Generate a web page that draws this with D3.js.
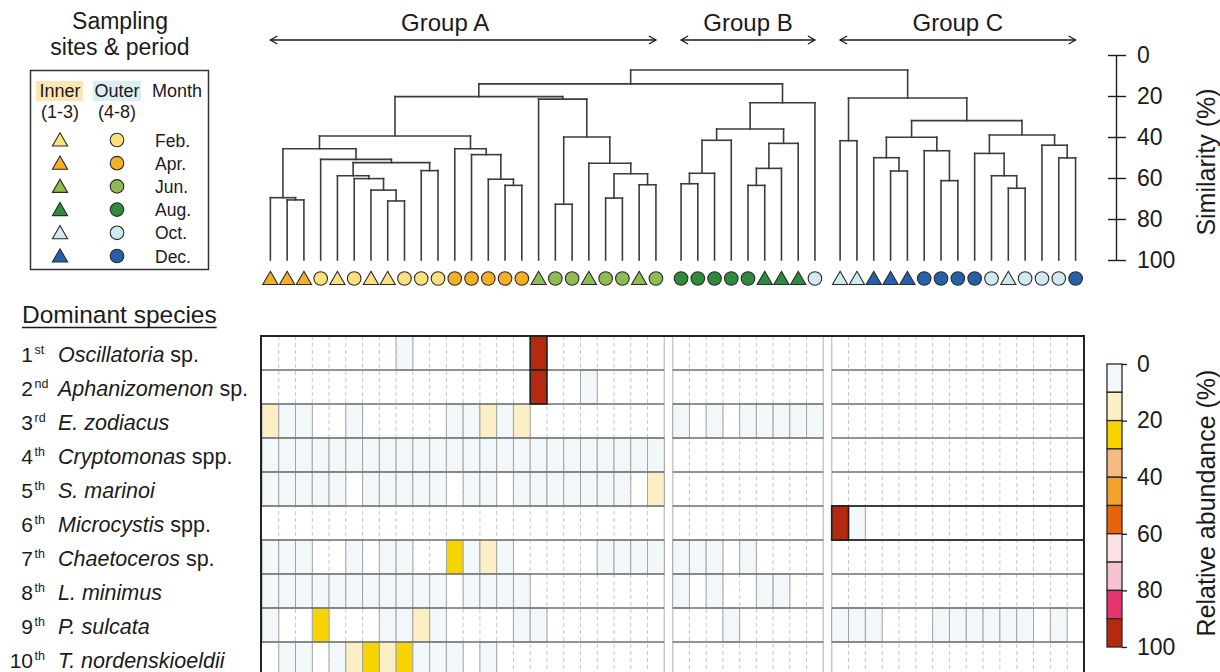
<!DOCTYPE html>
<html><head><meta charset="utf-8">
<script src="https://cdn.jsdelivr.net/npm/d3@7"></script>
<style>
html,body{margin:0;padding:0;background:#fff;overflow:hidden;}
svg{display:block;font-family:"Liberation Sans",Arial,Helvetica,sans-serif;}
</style></head><body>
<svg id="chart" width="1220" height="672"></svg>
<script>
// ---------------- data ----------------
const groupNames = ["Group A", "Group B", "Group C"];
const groupSizes = [24, 9, 15];

const months = ["Feb.", "Apr.", "Jun.", "Aug.", "Oct.", "Dec."];
const monthColors = ["#fde07e", "#f3b025", "#8fbc52", "#2f8b3b", "#d0e8ef", "#2561a9"];

// samples in dendrogram order: site type (I = inner 1-3, O = outer 4-8) and month index
const sampleSite = [
  "I","I","I","O","I","O","I","I","O","O","O","O","O","O","O","O","I","O","O","I","O","O","I","O",
  "O","O","O","O","O","I","I","I","O",
  "I","I","I","I","I","O","O","O","O","O","I","O","O","O","O"
];
const sampleMonth = [
  1,1,1,0,0,0,0,0,0,0,0,1,1,1,1,1,2,2,2,2,2,2,2,2,
  3,3,3,3,3,3,3,3,4,
  4,4,5,5,5,5,5,5,5,4,4,4,4,4,5
];

// cluster tree: [similarity %, left, right]; numbers are sample indices
const treeA = [20.3,
  [39.5,
    [45.7, [69.6, 0, [70.7, 1, 2]],
           [50.9, 3, [52.5, [58.9, 4, [60.3, 5, [65.9, 6, [71.2, 7, 8]]]], [56.4, 9, 10]]]],
    [45.7, 11, [48.6, 12, [60.6, 13, [63.6, 14, 15]]]]],
  [21.5, 16, [40.0, [72.8, 17, 18], [52.8, 19, [57.9, [69.8, 20, 21], [63.3, 22, 23]]]]]
];
const treeB = [23.3,
  [36.1, [41.6, [57.7, [62.8, 24, 25], 26], 27], [43.1, [55.3, [63.6, 28, 29], 30], 31]],
  32];
const treeC = [21.0,
  [41.8, 33, 34],
  [32.0,
    [40.1, [50.1, 35, [56.6, 36, 37]], [46.7, 38, [61.3, 39, 40]]],
    [39.0, [48.0, 41, [58.9, 42, [65.0, 43, 44]]], [44.0, 45, [50.2, 46, 47]]]]];
const treeAll = [7.3, [14.1, treeA, treeB], treeC];

const similarityTicks = [0, 20, 40, 60, 80, 100];

// dominant species
const speciesRank = ["1", "2", "3", "4", "5", "6", "7", "8", "9", "10"];
const speciesSup = ["st", "nd", "rd", "th", "th", "th", "th", "th", "th", "th"];
const speciesName = ["Oscillatoria", "Aphanizomenon", "E. zodiacus", "Cryptomonas", "S. marinoi",
  "Microcystis", "Chaetoceros", "L. minimus", "P. sulcata", "T. nordenskioeldii"];
const speciesQualifier = [" sp.", " sp.", "", " spp.", "", " spp.", " sp.", "", "", ""];

// relative abundance (%) per species, samples in dendrogram order (A | B | C)
const abundOscillatoria = [
  0,0,0,0,0,0,0,0,3,0,0,0,0,0,0,0,96,0,0,0,0,0,0,0,
  0,0,0,0,0,0,0,0,0,
  0,0,0,0,0,0,0,0,0,0,0,0,0,0,0];
const abundAphanizomenon = [
  0,0,0,0,0,0,0,0,0,0,0,0,0,0,0,0,94,0,0,2,0,0,0,0,
  0,0,0,0,0,0,0,0,0,
  0,0,0,0,0,0,0,0,0,0,0,0,0,0,0];
const abundZodiacus = [
  14,4,3,0,0,2,0,0,0,0,0,3,4,12,5,13,0,0,0,0,0,0,0,0,
  3,0,2,0,4,5,3,2,4,
  0,0,0,0,0,0,0,0,0,0,0,0,0,0,0];
const abundCryptomonas = [
  5,6,4,7,5,6,8,5,6,7,4,5,6,5,4,5,3,4,5,6,4,5,6,5,
  0,0,0,0,0,0,0,0,0,
  0,0,0,0,0,0,0,0,0,0,0,0,0,0,0];
const abundMarinoi = [
  4,5,3,6,4,0,5,6,4,7,3,0,4,5,0,6,5,4,6,5,3,4,0,16,
  0,0,0,0,0,0,0,0,0,
  0,0,0,0,0,0,0,0,0,0,0,0,0,0,0];
const abundMicrocystis = [
  0,0,0,0,0,0,0,0,0,0,0,0,0,0,0,0,0,0,0,0,0,0,0,0,
  0,0,0,0,0,0,0,0,0,
  97,3,0,0,0,0,0,0,0,0,0,0,0,0,0];
const abundChaetoceros = [
  4,3,5,0,0,3,0,4,3,0,0,25,6,14,7,0,0,0,0,0,3,4,5,4,
  3,4,5,0,3,0,0,0,0,
  0,0,0,0,0,0,0,0,0,0,0,0,0,0,0];
const abundMinimus = [
  5,4,6,5,4,6,5,4,6,5,4,0,5,6,4,3,0,0,0,0,0,0,0,0,
  3,0,4,0,0,5,3,0,0,
  0,0,0,0,0,0,0,0,0,0,0,0,0,0,0];
const abundSulcata = [
  4,0,0,26,0,0,0,3,5,15,4,0,0,0,0,3,4,0,0,0,0,0,0,0,
  0,0,0,3,0,0,0,0,0,
  4,5,3,0,0,0,4,3,5,4,3,4,0,3,0];
const abundNordenskioeldii = [
  0,4,5,0,3,14,27,16,28,5,4,3,0,4,0,0,0,0,0,0,0,0,0,0,
  0,0,0,0,0,0,0,0,0,
  0,0,0,0,0,0,0,0,0,0,0,0,0,0,0];
const abundance = [abundOscillatoria, abundAphanizomenon, abundZodiacus, abundCryptomonas,
  abundMarinoi, abundMicrocystis, abundChaetoceros, abundMinimus, abundSulcata, abundNordenskioeldii];

// colour classes of relative abundance
const abundanceBreaks = [10, 20, 30, 40, 50, 60, 70, 80, 90];
const abundanceColors = ["#f2f8f9", "#fdefc5", "#f7d300", "#f4bb84", "#f2a22d",
  "#e9630b", "#fbe1e3", "#f6c4d1", "#e5366f", "#b32a10"];
const abundanceTicks = [0, 20, 40, 60, 80, 100];

// rows of one group whose whole band is outlined
const outlinedRows = [{group: 2, species: 5}];

// ---------------- layout ----------------
const svg = d3.select("#chart");
const ink = "#1b1b1b";
const groupRanges = [[262, 664.3], [672.7, 823.3], [831.7, 1084]];

// column scales per group
const groupScales = groupSizes.map((n, g) =>
  d3.scaleBand().domain(d3.range(n)).range(groupRanges[g]).padding(0));
const samples = [];
groupSizes.forEach((n, g) => {
  for (let j = 0; j < n; j++) {
    const sc = groupScales[g];
    samples.push({group: g, col: j, x0: sc(j), w: sc.bandwidth(), cx: sc(j) + sc.bandwidth() / 2});
  }
});
samples.forEach((s, i) => { s.site = sampleSite[i]; s.month = sampleMonth[i]; });

// ---------------- dendrogram ----------------
const yS = d3.scaleLinear().domain([0, 100]).range([55, 260]);
const segs = [];
function place(node) {
  if (typeof node === "number") return {x: samples[node].cx, s: 100};
  const [s, l, r] = node;
  const L = place(l), R = place(r);
  segs.push([L.x, yS(s), R.x, yS(s)]);
  segs.push([L.x, yS(L.s), L.x, yS(s)]);
  segs.push([R.x, yS(R.s), R.x, yS(s)]);
  return {x: (L.x + R.x) / 2, s};
}
place(treeAll);
svg.append("g").selectAll("line").data(segs).join("line")
  .attr("x1", d => d[0]).attr("y1", d => d[1]).attr("x2", d => d[2]).attr("y2", d => d[3])
  .attr("stroke", "#3c3c3c").attr("stroke-width", 1.6).attr("stroke-linecap", "square");

// similarity axis
const simAxis = svg.append("g").attr("transform", "translate(1116,0)")
  .call(d3.axisRight(yS).tickValues(similarityTicks).tickSize(10).tickSizeOuter(0).tickPadding(11));
simAxis.select(".domain").attr("stroke", ink).attr("stroke-width", 1.4);
simAxis.selectAll(".tick line").attr("stroke", ink).attr("stroke-width", 1.4);
simAxis.selectAll(".tick").append("line").attr("x1", -8).attr("x2", 0)
  .attr("stroke", ink).attr("stroke-width", 1.4);
simAxis.selectAll(".tick text").attr("font-size", 23).attr("fill", ink)
  .attr("font-family", "Liberation Sans, Arial, sans-serif");
svg.append("text").attr("transform", "translate(1215,162) rotate(-90)")
  .attr("text-anchor", "middle").attr("font-size", 25).attr("fill", ink).text("Similarity (%)");

// sample symbols
const triPath = "M0,-7.2 L7.6,6 L-7.6,6 Z";
function drawSymbol(sel, site, color) {
  if (site === "I") sel.append("path").attr("d", triPath);
  else sel.append("circle").attr("r", 6.8);
  sel.select(":last-child").attr("fill", color).attr("stroke", "#2a2a2a").attr("stroke-width", 1.1);
}
const symG = svg.append("g");
samples.forEach(s => {
  const g = symG.append("g").attr("transform", `translate(${s.cx},278.5)`);
  drawSymbol(g, s.site, monthColors[s.month]);
});

// group arrows
let start = 0;
const groupLabelDx = [-18, 0, 0];
groupSizes.forEach((n, g) => {
  const x0 = samples[start].cx, x1 = samples[start + n - 1].cx;
  start += n;
  const ag = svg.append("g").attr("stroke", ink).attr("stroke-width", 1.3).attr("fill", "none");
  ag.append("line").attr("x1", x0).attr("x2", x1).attr("y1", 40).attr("y2", 40);
  ag.append("path").attr("d", `M${x0 + 7},36 L${x0},40 L${x0 + 7},44`);
  ag.append("path").attr("d", `M${x1 - 7},36 L${x1},40 L${x1 - 7},44`);
  svg.append("text").attr("x", (x0 + x1) / 2 + groupLabelDx[g]).attr("y", 31)
    .attr("text-anchor", "middle").attr("font-size", 24).attr("fill", ink).text(groupNames[g]);
});

// ---------------- legend: sampling sites & period ----------------
svg.append("text").attr("x", 120).attr("y", 29).attr("text-anchor", "middle")
  .attr("font-size", 23).attr("fill", ink).text("Sampling");
svg.append("text").attr("x", 120).attr("y", 55).attr("text-anchor", "middle")
  .attr("font-size", 23).attr("fill", ink).text("sites & period");
svg.append("rect").attr("x", 30.5).attr("y", 70.5).attr("width", 178).attr("height", 199)
  .attr("fill", "none").attr("stroke", "#333").attr("stroke-width", 1.5);
svg.append("rect").attr("x", 36).attr("y", 81).attr("width", 47).attr("height", 20).attr("fill", "#fde6b2");
svg.append("rect").attr("x", 93).attr("y", 81).attr("width", 48).attr("height", 20).attr("fill", "#dcedf3");
[["Inner", 60, 97], ["Outer", 117, 97], ["Month", 177, 97], ["(1-3)", 60, 118], ["(4-8)", 117, 118]]
  .forEach(([t, x, y]) => svg.append("text").attr("x", x).attr("y", y).attr("text-anchor", "middle")
    .attr("font-size", 18).attr("fill", ink).text(t));
months.forEach((m, i) => {
  const y = 140 + i * 23.2;
  drawSymbol(svg.append("g").attr("transform", `translate(60,${y})`), "I", monthColors[i]);
  drawSymbol(svg.append("g").attr("transform", `translate(117,${y})`), "O", monthColors[i]);
  svg.append("text").attr("x", 155).attr("y", y + 6.5).attr("font-size", 17.5).attr("fill", ink).text(m);
});

// ---------------- heatmap ----------------
const rowY = d3.scaleBand().domain(d3.range(10)).range([336, 676]).padding(0);
const rh = rowY.bandwidth();
const colour = d3.scaleThreshold().domain(abundanceBreaks).range(abundanceColors);
const hm = svg.append("g");

// dashed column guides
groupSizes.forEach((n, g) => {
  const sc = groupScales[g];
  hm.append("g").selectAll("line").data(d3.range(1, n)).join("line")
    .attr("x1", j => sc(j)).attr("x2", j => sc(j)).attr("y1", 336).attr("y2", 676)
    .attr("stroke", "#c6c6c6").attr("stroke-width", 1).attr("stroke-dasharray", "4,3");
});
// section edges beside the gaps
[groupRanges[0][1], groupRanges[1][0], groupRanges[1][1], groupRanges[2][0]].forEach(x =>
  hm.append("line").attr("x1", x).attr("x2", x).attr("y1", 336).attr("y2", 676)
    .attr("stroke", "#c8c8c8").attr("stroke-width", 1.5));

// cells
const cells = [];
abundance.forEach((row, k) => row.forEach((v, i) => { if (v > 0) cells.push({k, i, v}); }));
const lowCells = cells.filter(c => c.v < 90), topCells = cells.filter(c => c.v >= 90);
hm.append("g").selectAll("rect").data(lowCells).join("rect")
  .attr("x", c => samples[c.i].x0).attr("y", c => rowY(c.k))
  .attr("width", c => samples[c.i].w).attr("height", rh)
  .attr("fill", c => colour(c.v)).attr("stroke", "#a4a4a4").attr("stroke-width", 1);

// row separators per section
groupRanges.forEach(([x0, x1]) => {
  hm.append("g").selectAll("line").data(d3.range(1, 10)).join("line")
    .attr("x1", x0).attr("x2", x1).attr("y1", k => rowY(k)).attr("y2", k => rowY(k))
    .attr("stroke", "#707070").attr("stroke-width", 1.5);
});
outlinedRows.forEach(o => hm.append("rect")
  .attr("x", groupRanges[o.group][0]).attr("y", rowY(o.species))
  .attr("width", groupRanges[o.group][1] - groupRanges[o.group][0]).attr("height", rh)
  .attr("fill", "none").attr("stroke", "#111").attr("stroke-width", 1.3));
hm.append("g").selectAll("rect").data(topCells).join("rect")
  .attr("x", c => samples[c.i].x0).attr("y", c => rowY(c.k))
  .attr("width", c => samples[c.i].w).attr("height", rh)
  .attr("fill", c => colour(c.v)).attr("stroke", "#1e1e1e").attr("stroke-width", 1.6);

// frame
hm.append("rect").attr("x", 261).attr("y", 336).attr("width", 823).attr("height", 340)
  .attr("fill", "none").attr("stroke", "#222").attr("stroke-width", 2);

// species labels
const title = svg.append("text").attr("x", 22).attr("y", 323).attr("font-size", 24.5).attr("fill", ink)
  .text("Dominant species");
const tw = title.node().getComputedTextLength();
svg.append("line").attr("x1", 22).attr("x2", 22 + tw).attr("y1", 327.5).attr("y2", 327.5)
  .attr("stroke", ink).attr("stroke-width", 1.3);
speciesName.forEach((name, k) => {
  const cy = rowY(k) + rh / 2;
  svg.append("text").attr("x", 33).attr("y", cy + 9).attr("text-anchor", "end")
    .attr("font-size", 21).attr("fill", ink).text(speciesRank[k]);
  svg.append("text").attr("x", 34.5).attr("y", cy + 1).attr("font-size", 12.5).attr("fill", ink)
    .text(speciesSup[k]);
  const t = svg.append("text").attr("x", 58).attr("y", cy + 9).attr("font-size", 21.5).attr("fill", ink);
  t.append("tspan").attr("font-style", "italic").text(name);
  if (speciesQualifier[k]) t.append("tspan").text(speciesQualifier[k]);
});

// ---------------- colour bar ----------------
const cbY = d3.scaleLinear().domain([0, 100]).range([364, 647]);
svg.append("g").selectAll("rect").data(abundanceColors).join("rect")
  .attr("x", 1107).attr("width", 15)
  .attr("y", (c, i) => cbY(i * 10)).attr("height", (c, i) => cbY((i + 1) * 10) - cbY(i * 10))
  .attr("fill", c => c).attr("stroke", "#2a2a2a").attr("stroke-width", 1.3);
const cbAxis = svg.append("g").attr("transform", "translate(1122,0)")
  .call(d3.axisRight(cbY).tickValues(abundanceTicks).tickSize(5).tickSizeOuter(0).tickPadding(10));
cbAxis.select(".domain").remove();
cbAxis.selectAll(".tick line").attr("stroke", ink).attr("stroke-width", 1.3);
cbAxis.selectAll(".tick text").attr("font-size", 23).attr("fill", ink)
  .attr("font-family", "Liberation Sans, Arial, sans-serif");
svg.append("text").attr("transform", "translate(1215,503) rotate(-90)")
  .attr("text-anchor", "middle").attr("font-size", 25).attr("fill", ink).text("Relative abundance (%)");
</script>
</body></html>
